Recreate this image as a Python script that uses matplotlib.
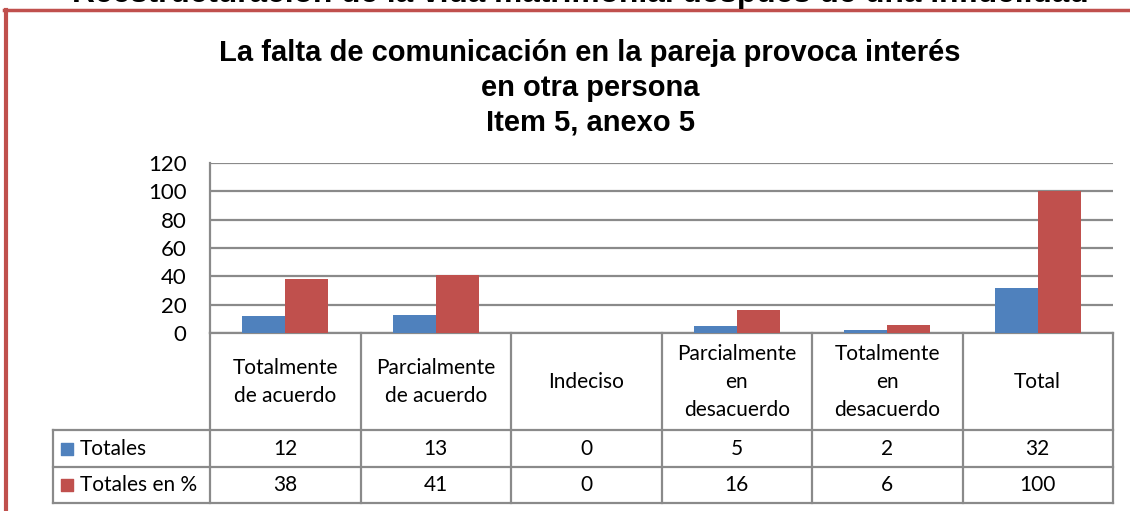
import matplotlib
matplotlib.use('Agg')
import matplotlib.pyplot as plt
from matplotlib.lines import Line2D
import numpy as np

# Data
categorias = ['Totalmente\nde acuerdo', 'Parcialmente\nde acuerdo', 'Indeciso',
              'Parcialmente\nen\ndesacuerdo', 'Totalmente\nen\ndesacuerdo', 'Total']
series_nombres = ['Totales', 'Totales en %']
totales = [12, 13, 0, 5, 2, 32]
totales_pct = [38, 41, 0, 16, 6, 100]
yticks = [0, 20, 40, 60, 80, 100, 120]

titulo_pagina = 'Reestructuración de la vida matrimonial después de una infidelidad'
titulo = 'La falta de comunicación en la pareja provoca interés\nen otra persona\nItem 5, anexo 5'

azul = '#4F81BD'
rojo = '#C0504D'
gris = '#8A8A8A'
fuente = 'Lato'
fuente_titulo = 'Liberation Sans'

W, H = 1130, 511
fig = plt.figure(figsize=(W/100, H/100), dpi=100)

# plot area in pixels
x0, x1 = 210, 1113
ytop, ybot = 163, 333
ax = fig.add_axes([x0/W, 1-ybot/H, (x1-x0)/W, (ybot-ytop)/H])

n = len(categorias)
x = np.arange(n)
bw = 0.285
ax.bar(x - bw/2, totales, bw, color=azul, zorder=3)
ax.bar(x + bw/2, totales_pct, bw, color=rojo, zorder=3)

ax.set_xlim(-0.5, n - 0.5)
ax.set_ylim(0, 120)
ax.set_yticks(yticks)
ax.set_yticklabels([str(v) for v in yticks], fontfamily=fuente, fontsize=16)
ax.tick_params(axis='y', length=0, pad=17)
ax.set_xticks([])
ax.yaxis.grid(True, color=gris, linewidth=1.6, zorder=0)
for s in ['top', 'right', 'bottom']:
  ax.spines[s].set_visible(False)
ax.spines['left'].set_color(gris)
ax.spines['left'].set_linewidth(1.6)

# data table below the plot
tr = ax.get_xaxis_transform()
def px2ax(py):
  return (ybot - py)/(ybot - ytop)
y_cat = px2ax(430)
y_r1 = px2ax(467)
y_r2 = px2ax(503)
xleg = (53 - x0)/((x1 - x0)/n) - 0.5
kw = dict(transform=tr, color=gris, linewidth=1.6, clip_on=False)
ax.plot([-0.5, n-0.5], [0, 0], **kw)
for yy in [y_cat, y_r1, y_r2]:
  ax.plot([xleg, n-0.5], [yy, yy], **kw)
for i in range(n+1):
  ax.plot([i-0.5, i-0.5], [0, y_r2], **kw)
ax.plot([xleg, xleg], [y_cat, y_r2], **kw)

fs = 15
for i, c in enumerate(categorias):
  ax.text(i, (0 + y_cat)/2, c, transform=tr, ha='center', va='center',
          fontfamily=fuente, fontsize=fs, linespacing=1.5)
filas = [totales, totales_pct]
colores = [azul, rojo]
ys = [(y_cat + y_r1)/2, (y_r1 + y_r2)/2]
for nombre, vals, col, yy in zip(series_nombres, filas, colores, ys):
  for i, v in enumerate(vals):
    ax.text(i, yy, str(v), transform=tr, ha='center', va='center',
            fontfamily=fuente, fontsize=fs)
  ax.text(xleg + 0.18, yy, nombre, transform=tr, ha='left', va='center',
          fontfamily=fuente, fontsize=fs)
  ax.scatter([xleg + 0.095], [yy], marker='s', s=80, color=col,
             transform=tr, clip_on=False)

# titles
fig.text(590/W, 1 - 88/H, titulo, ha='center', va='center', fontfamily=fuente_titulo,
         fontweight='bold', fontsize=21, linespacing=1.3)
fig.text(580/W, 1 - 2/H, titulo_pagina, ha='center', va='baseline',
         fontfamily=fuente_titulo, fontweight='bold', fontsize=22.8)

# red frame
fig.add_artist(Line2D([4/W, 1], [1-10/H, 1-10/H], color=rojo, linewidth=2.5,
                      transform=fig.transFigure))
fig.add_artist(Line2D([6/W, 6/W], [0, 1-10/H], color=rojo, linewidth=3,
                      transform=fig.transFigure))

fig.savefig('out.png', dpi=100)
plt.close(fig)
